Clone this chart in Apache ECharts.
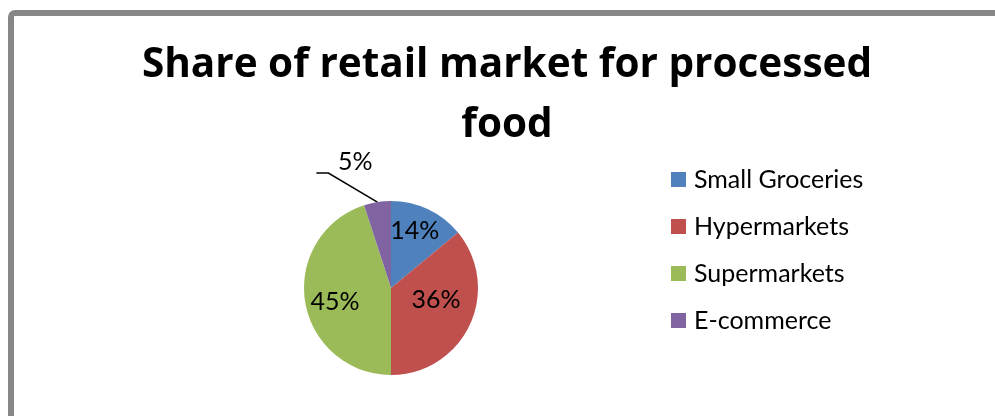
<!DOCTYPE html>
<html>
<head>
<meta charset="utf-8">
<script src="https://cdn.jsdelivr.net/npm/echarts@6/dist/echarts.min.js"></script>
<style>
  html, body { margin: 0; padding: 0; background: #ffffff; }
  #chart { width: 995px; height: 416px; }
</style>
</head>
<body>
<div id="chart"></div>
<script>
// Retail channel shares for processed food (percent)
const categories = ['Small Groceries', 'Hypermarkets', 'Supermarkets', 'E-commerce'];
const shares = [14, 36, 45, 5];
const titleText = 'Share of retail market for processed\nfood';

// Presentation settings kept apart from the data
const sliceColors = ['#4F81BD', '#C0504D', '#9BBB59', '#8064A2'];
const labelNudges = [[4, -15], [3, -8], [-10, 7], [0, 0]];
const FONT = 'Lato, "Open Sans", sans-serif';
const TITLE_FONT = '"Open Sans", Lato, sans-serif';

const chart = echarts.init(document.getElementById('chart'), null, { renderer: 'canvas' });

const pieData = categories.map((name, i) => ({
  name: name,
  value: shares[i],
  itemStyle: { color: sliceColors[i] },
  label: i === 3 ? { position: 'outside' } : { position: 'inside', offset: labelNudges[i] },
  labelLine: { show: i === 3 }
}));

chart.setOption({
  animation: false,
  backgroundColor: '#ffffff',
  title: {
    text: titleText,
    left: 507,
    top: 35,
    textAlign: 'center',
    padding: 0,
    textStyle: {
      fontFamily: TITLE_FONT,
      fontWeight: 'bold',
      fontSize: 40.5,
      lineHeight: 60,
      color: '#000000'
    }
  },
  legend: {
    orient: 'vertical',
    left: 671,
    top: 167,
    padding: 0,
    itemWidth: 15,
    itemHeight: 15,
    itemGap: 22,
    icon: 'rect',
    selectedMode: false,
    data: categories,
    textStyle: { fontFamily: FONT, fontSize: 25, color: '#000000', padding: [0, 0, 0, 3] }
  },
  graphic: [{
    type: 'rect',
    silent: true,
    shape: { x: 11, y: 13, width: 1000, height: 500, r: 4 },
    style: { fill: 'none', stroke: '#878787', lineWidth: 6 }
  }],
  series: [{
    type: 'pie',
    center: [391, 288],
    radius: 87,
    startAngle: 90,
    clockwise: true,
    avoidLabelOverlap: false,
    itemStyle: { borderWidth: 0 },
    label: {
      formatter: '{d}%',
      fontFamily: FONT,
      fontSize: 25,
      color: '#000000'
    },
    labelLine: {
      lineStyle: { color: '#000000', width: 1.5 }
    },
    labelLayout: function (p) {
      // Bend the small slice's leader line up and to the left, label resting above it
      if (p.dataIndex !== 3 || !p.labelLinePoints) return {};
      const a = p.labelLinePoints[0];
      const b = [a[0] - 49, a[1] - 29];
      const c = [b[0] - 12, b[1]];
      return {
        x: a[0] - 22,
        y: a[1] - 40,
        align: 'center',
        verticalAlign: 'middle',
        labelLinePoints: [a, b, c]
      };
    },
    data: pieData
  }]
});
</script>
</body>
</html>
